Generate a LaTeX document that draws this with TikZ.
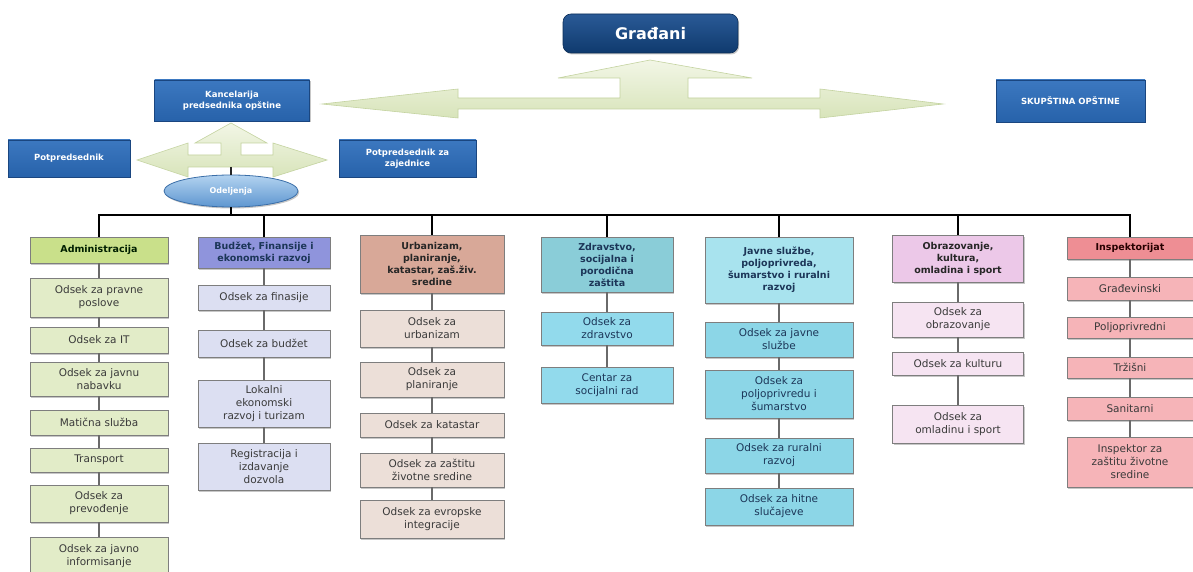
\documentclass[tikz,border=0pt]{standalone}
\usepackage{fontspec}
\setmainfont{DejaVu Sans}
\usetikzlibrary{shapes.geometric,shadows}
\definecolor{navy}{HTML}{0F3A6E}
\definecolor{navytop}{HTML}{2A5A96}
\definecolor{topblue}{HTML}{2762AA}
\definecolor{topbluetop}{HTML}{3C78C0}
\definecolor{topborder}{HTML}{1A4680}
\definecolor{arrowlight}{HTML}{F2F6E6}
\definecolor{arrowfill}{HTML}{D8E4BA}
\definecolor{arrowborder}{HTML}{C4D3A0}
\definecolor{ellborder}{HTML}{3A6EA8}
\definecolor{elltop}{HTML}{B3D3F0}
\definecolor{ellbot}{HTML}{5E96D0}
\definecolor{bordergray}{HTML}{7E7E7E}
\definecolor{linegray}{HTML}{6A6A6A}
\definecolor{greenhd}{HTML}{C9E08A}
\definecolor{greensb}{HTML}{E2ECC8}
\definecolor{purphd}{HTML}{8F94DC}
\definecolor{purpsb}{HTML}{DCDFF2}
\definecolor{brownhd}{HTML}{D8A898}
\definecolor{brownsb}{HTML}{ECDFD8}
\definecolor{tealhd}{HTML}{8ACDD8}
\definecolor{tealsb}{HTML}{92DAEC}
\definecolor{cyanhd}{HTML}{A8E3EE}
\definecolor{cyansb}{HTML}{8CD6E7}
\definecolor{pinkhd}{HTML}{ECC8E8}
\definecolor{pinksb}{HTML}{F6E4F2}
\definecolor{redhd}{HTML}{EE8E94}
\definecolor{redsb}{HTML}{F6B4B8}
\definecolor{txtdark}{HTML}{3A3A3A}
\definecolor{txtnavy}{HTML}{1C3658}
\tikzset{
  shad/.style={drop shadow={shadow xshift=1.2pt,shadow yshift=-1.5pt,fill=black,opacity=0.22}},
  hd/.style={draw=bordergray, line width=0.6pt, align=center, inner sep=1pt, shad,
    font=\fontsize{9.5}{12}\selectfont\bfseries},
  sb/.style={draw=bordergray, line width=0.6pt, align=center, inner sep=1pt, shad,
    font=\fontsize{10.5}{13}\selectfont, text=txtdark},
  topbox/.style={draw=topborder, line width=0.6pt, top color=topbluetop, bottom color=topblue,
    text=white, align=center, inner sep=1pt, shad, font=\fontsize{8.5}{11}\selectfont\bfseries},
  vline/.style={draw=linegray, line width=2.5pt},
  busline/.style={draw=black, line width=2pt},
  blk/.style={draw=black!85, line width=2.5pt},
}
\begin{document}
\begin{tikzpicture}[x=1pt,y=-1pt]
\useasboundingbox (0,0) rectangle (1193,572);
\fill[white] (0,0) rectangle (1193,572);

% big arrow
\shade[top color=arrowlight, bottom color=arrowfill, draw=arrowborder, line width=0.6pt]
  (322,104) -- (458,89) -- (458,98) -- (620,98) -- (620,78) -- (558,78) -- (650,60)
  -- (752,78) -- (688,78) -- (688,98) -- (820,98) -- (820,89) -- (943,104)
  -- (820,118) -- (820,109) -- (458,109) -- (458,118) -- cycle;

% small arrow
\shade[top color=arrowlight, bottom color=arrowfill, draw=arrowborder, line width=0.6pt]
  (137,160) -- (188,143) -- (188,155) -- (221,155) -- (221,143) -- (195,143) -- (231,123)
  -- (267,143) -- (241,143) -- (241,155) -- (273,155) -- (273,143) -- (327,160)
  -- (273,177) -- (273,167) -- (188,167) -- (188,177) -- cycle;
\coordinate (sa) at (231,167);

% top nodes
\node[draw=navy!80!black, line width=0.6pt, rounded corners=8pt, top color=navytop, bottom color=navy,
  text=white, minimum width=175pt, minimum height=39pt, shad,
  font=\fontsize{16}{18}\selectfont\bfseries] (gr) at (650.5,33.5) {Građani};
\node[topbox, minimum width=155pt, minimum height=41pt] (kp) at (232,100.5) {Kancelarija\\predsednika opštine};
\node[topbox, minimum width=149pt, minimum height=42pt] (so) at (1070.5,101) {SKUPŠTINA OPŠTINE};
\node[topbox, minimum width=122pt, minimum height=37pt] (pp) at (69,158.5) {Potpredsednik};
\node[topbox, minimum width=137pt, minimum height=37pt] (pz) at (407.5,158.5) {Potpredsednik za\\zajednice};
\node[ellipse, draw=ellborder, line width=0.8pt, top color=elltop, bottom color=ellbot, text=white,
  minimum width=134pt, minimum height=32pt, inner sep=0pt, shad,
  font=\fontsize{8}{10}\selectfont\bfseries] (od) at (231,191) {Odeljenja};
\draw[blk] (sa) -- (od.north);

% column 1
\node[hd, fill=greenhd, text=black!80!green!60!black, minimum width=138pt, minimum height=26pt] (h1) at (99,250) {Administracija};
\node[sb, fill=greensb, minimum width=138pt, minimum height=39pt] (a1) at (99,297.5) {Odsek za pravne\\poslove};
\node[sb, fill=greensb, minimum width=138pt, minimum height=26pt] (a2) at (99,340) {Odsek za IT};
\node[sb, fill=greensb, minimum width=138pt, minimum height=34pt] (a3) at (99,379) {Odsek za javnu\\nabavku};
\node[sb, fill=greensb, minimum width=138pt, minimum height=25pt] (a4) at (99,422.5) {Matična služba};
\node[sb, fill=greensb, minimum width=138pt, minimum height=24pt] (a5) at (99,460) {Transport};
\node[sb, fill=greensb, minimum width=138pt, minimum height=37pt] (a6) at (99,503.5) {Odsek za\\prevođenje};
\node[sb, fill=greensb, minimum width=138pt, minimum height=38pt] (a7) at (99,556) {Odsek za javno\\informisanje};

% column 2
\node[hd, fill=purphd, text=txtnavy, minimum width=132pt, minimum height=31pt] (h2) at (264,252.5) {Budžet, Finansije i\\ekonomski razvoj};
\node[sb, fill=purpsb, minimum width=132pt, minimum height=25pt] (b1) at (264,297.5) {Odsek za finasije};
\node[sb, fill=purpsb, minimum width=132pt, minimum height=27pt] (b2) at (264,343.5) {Odsek za budžet};
\node[sb, fill=purpsb, minimum width=132pt, minimum height=47pt] (b3) at (264,403.5) {Lokalni\\ekonomski\\razvoj i turizam};
\node[sb, fill=purpsb, minimum width=132pt, minimum height=47pt] (b4) at (264,466.5) {Registracija i\\izdavanje\\dozvola};

% column 3
\node[hd, fill=brownhd, text=black!85, minimum width=144pt, minimum height=58pt] (h3) at (432,264) {Urbanizam,\\planiranje,\\katastar, zaš.živ.\\sredine};
\node[sb, fill=brownsb, minimum width=144pt, minimum height=37pt] (c1) at (432,328.5) {Odsek za\\urbanizam};
\node[sb, fill=brownsb, minimum width=144pt, minimum height=35pt] (c2) at (432,379.5) {Odsek za\\planiranje};
\node[sb, fill=brownsb, minimum width=144pt, minimum height=24pt] (c3) at (432,425) {Odsek za katastar};
\node[sb, fill=brownsb, minimum width=144pt, minimum height=34pt] (c4) at (432,470) {Odsek za zaštitu\\životne sredine};
\node[sb, fill=brownsb, minimum width=144pt, minimum height=38pt] (c5) at (432,519) {Odsek za evropske\\integracije};

% column 4
\node[hd, fill=tealhd, text=txtnavy, minimum width=132pt, minimum height=55pt] (h4) at (607,264.5) {Zdravstvo,\\socijalna i\\porodična\\zaštita};
\node[sb, fill=tealsb, text=txtnavy, minimum width=132pt, minimum height=33pt] (d1) at (607,328.5) {Odsek za\\zdravstvo};
\node[sb, fill=tealsb, text=txtnavy, minimum width=132pt, minimum height=36pt] (d2) at (607,385) {Centar za\\socijalni rad};

% column 5
\node[hd, fill=cyanhd, text=txtnavy, minimum width=148pt, minimum height=66pt] (h5) at (779,270) {Javne službe,\\poljoprivreda,\\šumarstvo i ruralni\\razvoj};
\node[sb, fill=cyansb, text=txtnavy, minimum width=148pt, minimum height=35pt] (e1) at (779,339.5) {Odsek za javne\\službe};
\node[sb, fill=cyansb, text=txtnavy, minimum width=148pt, minimum height=48pt] (e2) at (779,394) {Odsek za\\poljoprivredu i\\šumarstvo};
\node[sb, fill=cyansb, text=txtnavy, minimum width=148pt, minimum height=35pt] (e3) at (779,455.5) {Odsek za ruralni\\razvoj};
\node[sb, fill=cyansb, text=txtnavy, minimum width=148pt, minimum height=37pt] (e4) at (779,506.5) {Odsek za hitne\\slučajeve};

% column 6
\node[hd, fill=pinkhd, text=black!85, minimum width=131pt, minimum height=47pt] (h6) at (958,258.5) {Obrazovanje,\\kultura,\\omladina i sport};
\node[sb, fill=pinksb, minimum width=131pt, minimum height=35pt] (f1) at (958,319.5) {Odsek za\\obrazovanje};
\node[sb, fill=pinksb, minimum width=131pt, minimum height=23pt] (f2) at (958,363.5) {Odsek za kulturu};
\node[sb, fill=pinksb, minimum width=131pt, minimum height=38pt] (f3) at (958,424) {Odsek za\\omladinu i sport};

% column 7
\node[hd, fill=redhd, text=black!85!red, minimum width=126pt, minimum height=22pt] (h7) at (1130,248) {Inspektorijat};
\node[sb, fill=redsb, minimum width=126pt, minimum height=23pt] (g1) at (1130,288.5) {Građevinski};
\node[sb, fill=redsb, minimum width=126pt, minimum height=21pt] (g2) at (1130,327.5) {Poljoprivredni};
\node[sb, fill=redsb, minimum width=126pt, minimum height=21pt] (g3) at (1130,367.5) {Tržišni};
\node[sb, fill=redsb, minimum width=126pt, minimum height=23pt] (g4) at (1130,408.5) {Sanitarni};
\node[sb, fill=redsb, minimum width=126pt, minimum height=50pt] (g5) at (1130,462) {Inspektor za\\zaštitu životne\\sredine};

% bus
\coordinate (bus) at (0,215);
\foreach \h in {h1,h2,h3,h4,h5,h6,h7}
  \draw[busline] (od.south) -- (od.south |- bus) -| (\h.north);

% column connectors
\draw[vline] (h1.south) -- (a1.north) (a1.south) -- (a2.north) (a2.south) -- (a3.north)
  (a3.south) -- (a4.north) (a4.south) -- (a5.north) (a5.south) -- (a6.north) (a6.south) -- (a7.north);
\draw[vline] (h2.south) -- (b1.north) (b1.south) -- (b2.north) (b2.south) -- (b3.north) (b3.south) -- (b4.north);
\draw[vline] (h3.south) -- (c1.north) (c1.south) -- (c2.north) (c2.south) -- (c3.north)
  (c3.south) -- (c4.north) (c4.south) -- (c5.north);
\draw[vline] (h4.south) -- (d1.north) (d1.south) -- (d2.north);
\draw[vline] (h5.south) -- (e1.north) (e1.south) -- (e2.north) (e2.south) -- (e3.north) (e3.south) -- (e4.north);
\draw[vline] (h6.south) -- (f1.north) (f1.south) -- (f2.north) (f2.south) -- (f3.north);
\draw[vline] (h7.south) -- (g1.north) (g1.south) -- (g2.north) (g2.south) -- (g3.north)
  (g3.south) -- (g4.north) (g4.south) -- (g5.north);
\end{tikzpicture}
\end{document}
